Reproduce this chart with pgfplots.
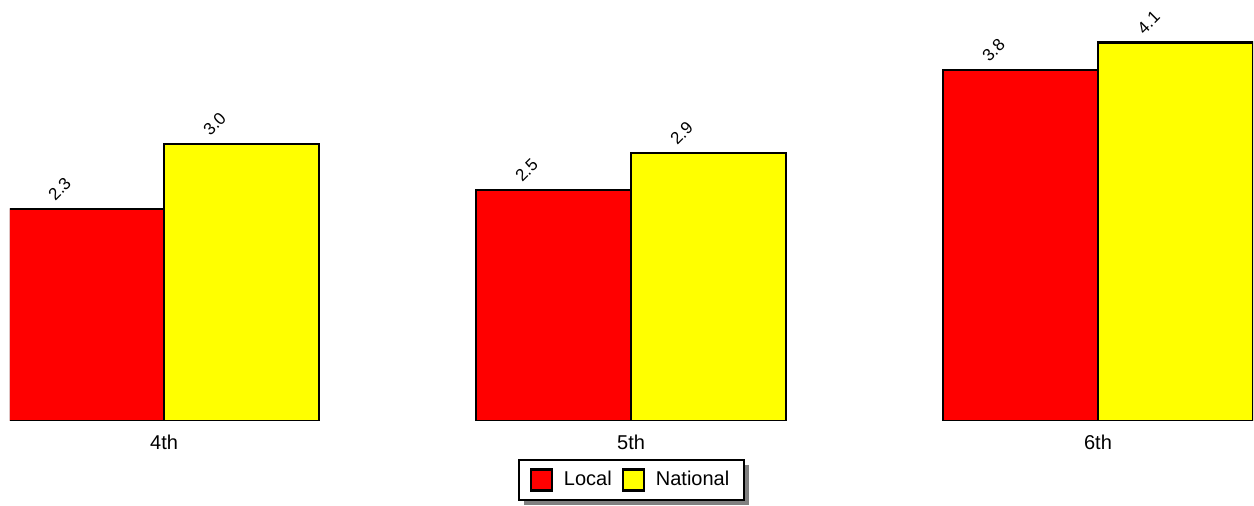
\documentclass[border=0pt]{standalone}
\usepackage{pgfplots}
\pgfplotsset{compat=1.18}
\usepackage{fontspec}
\setmainfont{Liberation Sans}
\usetikzlibrary{shadows}
\definecolor{barred}{RGB}{255,0,0}
\definecolor{baryellow}{RGB}{255,255,0}
\makeatletter
\tikzset{no preactions/.code={\let\tikz@preactions\pgfutil@empty}}
\makeatother
\begin{document}
\begin{tikzpicture}
\begin{axis}[
  scale only axis,
  width=621.5pt, height=207.7pt,
  xmin=-0.33, xmax=2.332,
  ymin=0, ymax=4.5,
  ybar=0pt, bar width=0.332,
  axis line style={draw=none},
  tick style={draw=none},
  ytick=\empty,
  xtick={0,1,2},
  xticklabels={4th,5th,6th},
  xticklabel style={font=\fontsize{10}{11}\selectfont, yshift=1pt},
  nodes near coords,
  nodes near coords style={/pgf/number format/fixed, /pgf/number format/fixed zerofill, /pgf/number format/precision=1, /pgf/number format/assume math mode=true},
  every node near coord/.append style={font=\fontsize{8.5}{9}\selectfont, anchor=center, xshift=-13.5pt, yshift=10pt, rotate=45, text=black},
  legend columns=2,
  legend style={at={(0.5,0)}, anchor=north, yshift=-19pt, draw=black, line width=1.1pt,
    font=\fontsize{10}{12}\selectfont, inner xsep=5.5pt, inner ysep=3.6pt,
    drop shadow={shadow xshift=2.5pt, shadow yshift=-2.3pt, fill=gray, opacity=1},
    /tikz/every odd column/.append style={column sep=3.5pt},
    /tikz/every even column/.append style={column sep=3pt}},
  legend image code/.code={\draw[#1, no preactions, line width=1.1pt] (0pt,-5.25pt) rectangle (10.5pt,5.25pt);},
]
\addplot[fill=barred, draw=black, line width=1.1pt] coordinates {(0,2.3) (1,2.5) (2,3.8)};
\addplot[fill=baryellow, draw=black, line width=1.1pt] coordinates {(0,3.0) (1,2.9) (2,4.1)};
\legend{Local,National}
\end{axis}
\pgfresetboundingbox
\useasboundingbox ([shift={(-5pt,-42.5pt)}]current axis.south west) rectangle ([shift={(0.5pt,2.8pt)}]current axis.north east);
\end{tikzpicture}
\end{document}
